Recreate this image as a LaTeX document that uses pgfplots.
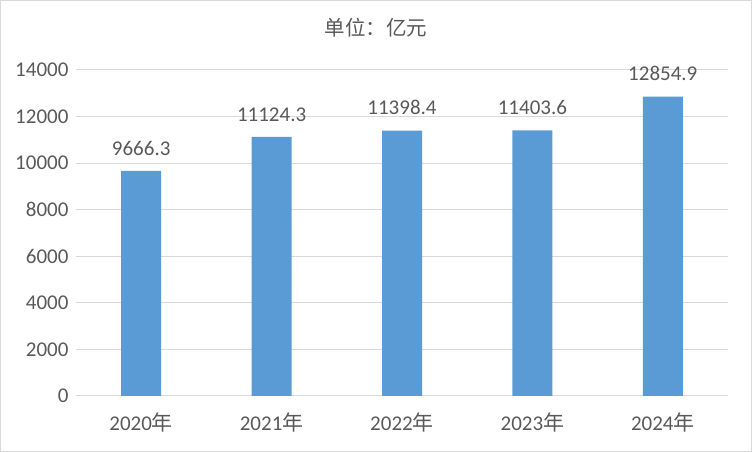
\documentclass[border=0pt]{standalone}
\usepackage{pgfplots}
\pgfplotsset{compat=1.18}
\usepackage{fontspec}
\setmainfont{Carlito}
\newfontfamily\cjk{Noto Sans CJK SC}
\definecolor{barblue}{HTML}{5B9BD5}
\definecolor{txt}{HTML}{595959}
\definecolor{gridc}{HTML}{D9D9D9}
\begin{document}
\begin{tikzpicture}[x=1pt,y=1pt]
\draw[gridc,line width=1pt] (0.5,0.5) rectangle (751.5,451.5);
\useasboundingbox (0,0) rectangle (752,452);
\node[txt,font=\cjk\fontsize{20.5}{22}\selectfont] at (376,424) {单位：亿元};
\begin{axis}[at={(76pt,56pt)},anchor=south west,
  scale only axis, width=652pt, height=326pt,
  xmin=-0.5, xmax=4.5, ymin=0, ymax=14000,
  xtick={0,1,2,3,4},
  xticklabels={2020{\cjk 年},2021{\cjk 年},2022{\cjk 年},2023{\cjk 年},2024{\cjk 年}},
  ytick={0,2000,...,14000},
  /pgf/number format/assume math mode=true,
  scaled y ticks=false,
  yticklabel style={/pgf/number format/set thousands separator={}},
  ymajorgrids, grid style={gridc, line width=1pt},
  axis x line*=bottom, axis y line*=left,
  x axis line style={gridc,line width=1pt,-},
  y axis line style={draw=none},
  xtick style={draw=none}, ytick style={draw=none},
  ticklabel style={txt,font=\fontsize{21}{23}\selectfont},
  xticklabel style={yshift=-9pt},
  yticklabel style={xshift=-4pt},
  ybar, bar width=40pt,
  nodes near coords,
  nodes near coords style={txt,font=\fontsize{21}{23}\selectfont,yshift=12pt,/pgf/number format/.cd,fixed,precision=1,fixed zerofill,1000 sep={},assume math mode=true},
  clip=false,
]
\addplot[fill=barblue,draw=none] coordinates {(0,9666.3) (1,11124.3) (2,11398.4) (3,11403.6) (4,12854.9)};
\end{axis}
\end{tikzpicture}
\end{document}
